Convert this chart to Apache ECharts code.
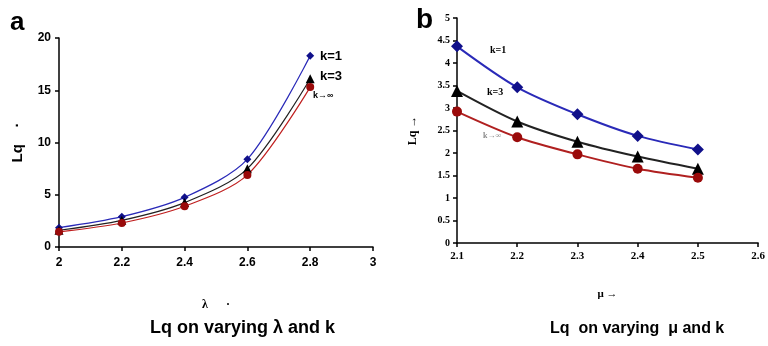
<!DOCTYPE html>
<html><head><meta charset="utf-8">
<script src="https://cdn.jsdelivr.net/npm/echarts@6/dist/echarts.min.js"></script>
<style>html,body{margin:0;padding:0;background:#fff}#c{width:768px;height:346px}</style>
</head><body><div id="c"></div>
<script>
// Panel a: Lq vs lambda
const lambdaVals = [2, 2.2, 2.4, 2.6, 2.8];
const aK1 = [1.85, 2.9, 4.75, 8.4, 18.3];
const aK3 = [1.6, 2.55, 4.25, 7.5, 16.1];
const aKinf = [1.45, 2.3, 3.9, 6.9, 15.3];
// Panel b: Lq vs mu
const muVals = [2.1, 2.2, 2.3, 2.4, 2.5];
const bK1 = [4.37, 3.46, 2.86, 2.38, 2.08];
const bK3 = [3.38, 2.7, 2.25, 1.92, 1.65];
const bKinf = [2.92, 2.35, 1.97, 1.65, 1.45];

const pair = (xs, ys) => xs.map((x, i) => [x, ys[i]]);
const chart = echarts.init(document.getElementById('c'));
const sansB = {fontFamily: 'Liberation Sans Narrow, Liberation Sans, Arial', fontWeight: 'bold'};
const serifB = {fontFamily: 'Liberation Serif, Times New Roman', fontWeight: 'bold'};
const axLine = {lineStyle: {color: '#000', width: 1.5}};
function ser(xi, data, color, mcolor, symbol, size, width) {
  return {type: 'line', xAxisIndex: xi, yAxisIndex: xi, data, smooth: 0.3,
    symbol, symbolSize: size, lineStyle: {color, width},
    itemStyle: {color: mcolor}, z: 3};
}
chart.setOption({
  animation: false,
  grid: [
    {left: 59, top: 38, width: 314, height: 209},
    {left: 457, top: 18, width: 304, height: 225}
  ],
  xAxis: [
    {gridIndex: 0, type: 'value', min: 2, max: 3, interval: 0.2,
     axisLine: axLine, axisTick: {length: 4, lineStyle: {color: '#000', width: 1.5}},
     splitLine: {show: false},
     axisLabel: Object.assign({color: '#000', fontSize: 12, margin: 10}, sansB),
     name: 'λ      ·', nameLocation: 'middle', nameGap: 52,
     nameTextStyle: Object.assign({color: '#000', fontSize: 12}, serifB)},
    {gridIndex: 1, type: 'value', min: 2.1, max: 2.6, interval: 0.1,
     axisLine: axLine, axisTick: {length: 4, lineStyle: {color: '#000', width: 1.5}},
     splitLine: {show: false},
     axisLabel: Object.assign({color: '#000', fontSize: 11, margin: 8,
       formatter: v => (Math.round(v * 10) / 10).toFixed(1)}, serifB),
     name: 'μ →', nameLocation: 'middle', nameGap: 46,
     nameTextStyle: Object.assign({color: '#000', fontSize: 11}, serifB)}
  ],
  yAxis: [
    {gridIndex: 0, type: 'value', min: 0, max: 20, interval: 5,
     axisLine: axLine, axisTick: {show: true, length: 4, lineStyle: {color: '#000', width: 1.5}},
     splitLine: {show: false},
     axisLabel: Object.assign({color: '#000', fontSize: 12, margin: 8}, sansB),
     name: 'Lq    ·', nameLocation: 'middle', nameGap: 34, nameRotate: 90,
     nameTextStyle: Object.assign({color: '#000', fontSize: 15}, sansB)},
    {gridIndex: 1, type: 'value', min: 0, max: 5, interval: 0.5,
     axisLine: axLine, axisTick: {show: true, length: 4, lineStyle: {color: '#000', width: 1.5}},
     splitLine: {show: false},
     axisLabel: Object.assign({color: '#000', fontSize: 10, margin: 7,
       formatter: v => String(v)}, serifB),
     name: 'Lq →', nameLocation: 'middle', nameGap: 38, nameRotate: 90,
     nameTextStyle: Object.assign({color: '#000', fontSize: 12}, serifB)}
  ],
  series: [
    ser(0, pair(lambdaVals, aK1), '#2a2ab8', '#10108a', 'diamond', 8, 1.2),
    ser(0, pair(lambdaVals, aK3), '#222', '#000', 'triangle', 9, 1.2),
    ser(0, pair(lambdaVals, aKinf), '#c02020', '#9a0a0a', 'circle', 8, 1.2),
    ser(1, pair(muVals, bK1), '#2a2ab8', '#10108a', 'diamond', 12, 2),
    ser(1, pair(muVals, bK3), '#222', '#000', 'triangle', 12, 2),
    ser(1, pair(muVals, bKinf), '#b02020', '#9a0a0a', 'circle', 10, 2)
  ],
  graphic: [
    {type: 'text', left: 10, top: 10, style: {text: 'a', fontSize: 26, fill: '#000', fontFamily: 'Liberation Sans', fontWeight: 'bold'}},
    {type: 'text', left: 416, top: 6, style: {text: 'b', fontSize: 28, fill: '#000', fontFamily: 'Liberation Sans', fontWeight: 'bold'}},
    {type: 'text', left: 320, top: 50, style: Object.assign({text: 'k=1', fontSize: 13, fill: '#000'}, sansB)},
    {type: 'text', left: 320, top: 70, style: Object.assign({text: 'k=3', fontSize: 13, fill: '#000'}, sansB)},
    {type: 'text', left: 313, top: 91, style: Object.assign({text: 'k→∞', fontSize: 9, fill: '#000'}, sansB)},
    {type: 'text', left: 490, top: 45, style: Object.assign({text: 'k=1', fontSize: 10, fill: '#000'}, serifB)},
    {type: 'text', left: 487, top: 87, style: Object.assign({text: 'k=3', fontSize: 10, fill: '#000'}, serifB)},
    {type: 'text', left: 483, top: 132, style: Object.assign({text: 'k→∞', fontSize: 8, fill: '#888'}, serifB)},
    {type: 'text', left: 150, top: 319, style: Object.assign({text: 'Lq on varying λ and k', fontSize: 18, fill: '#000'}, sansB)},
    {type: 'text', left: 550, top: 321, style: Object.assign({text: 'Lq  on varying  μ and k', fontSize: 16, fill: '#000'}, sansB)}
  ]
});
</script></body></html>
